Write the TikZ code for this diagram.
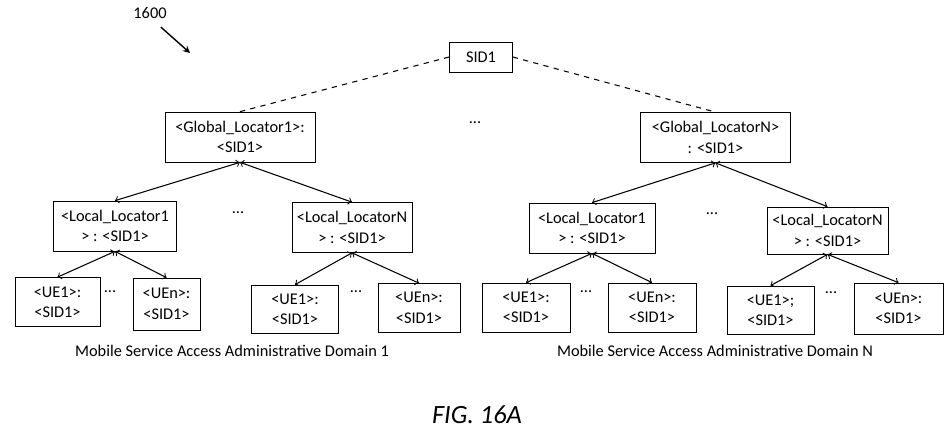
\documentclass[tikz,border=0pt]{standalone}
\usepackage{fontspec}
\setmainfont{Carlito}
\usepackage{tikz}
\usetikzlibrary{calc}
\usetikzlibrary{arrows}
\tikzstyle{sidbox} = [rectangle, 
minimum width=1.26cm, 
minimum height=0.6cm, 
text centered, 
draw=black]
\tikzstyle{globbox} = [rectangle, 
minimum width=3cm, 
minimum height=1cm, 
align=center, 
inner sep=1pt, 
draw=black]
\tikzstyle{locbox} = [rectangle, 
minimum width=2.46cm, 
minimum height=1cm, 
align=center, 
inner sep=1pt, 
draw=black]
\tikzstyle{uebox} = [rectangle, 
minimum width=1.74cm, 
minimum height=0.98cm, 
align=center, 
inner sep=1pt, 
draw=black]
\tikzstyle{dots} = [anchor=base, inner sep=0pt]
\tikzstyle{link} = [<->,>=to, semithick]
\tikzstyle{peer} = [dashed, semithick]
\tikzstyle{ptr} = [thick,->,>=stealth]

\begin{document}
\begin{tikzpicture}[font=\fontsize{9.3}{11.6}\selectfont]
			\useasboundingbox (0,0) rectangle (19,-8.9);
			\node (num) at (3.0,-0.26) {1600};
			\coordinate (tip) at (3.8,-1.06);
			\draw [ptr, shorten <=2pt] (num.-55) -- (tip);
			
			\node (sid)[sidbox] at (9.62,-1.14) {SID1};
			
			\node (glob1)[globbox] at (4.8,-2.74) {<Global\_Locator1>:\\<SID1>};
			\node (globN)[globbox] at (14.31,-2.75) {<Global\_LocatorN>\\: <SID1>};
			\node (gdots)[dots] at (9.5,-2.48) {...};
			\draw [peer] (sid.west) -- (glob1.north);
			\draw [peer] (sid.east) -- (globN.north);
			
			% domain 1
			\node (loc11)[locbox] at (2.3,-4.52) {<Local\_Locator1\\> : <SID1>};
			\node (loc1N)[locbox, minimum width=2.4cm] at (7.04,-4.55) {<Local\_LocatorN\\> : <SID1>};
			\node (ldots1)[dots] at (4.76,-4.28) {...};
			\draw [link] (glob1.south) -- (loc11.north);
			\draw [link] (glob1.south) -- (loc1N.north);
			
			\node (ue111)[uebox, minimum width=1.7cm] at (1.15,-6.04) {<UE1>:\\<SID1>};
			\node (ue11n)[uebox, minimum width=1.34cm, minimum height=1.04cm] at (3.33,-6.08) {<UEn>:\\<SID1>};
			\node (udots11)[dots] at (2.2,-5.86) {...};
			\draw [link] (loc11.south) -- (ue111.north);
			\draw [link] (loc11.south) -- (ue11n.north);
			
			\node (ue1n1)[uebox, minimum height=0.96cm] at (5.9,-6.18) {<UE1>:\\<SID1>};
			\node (ue1nn)[uebox, minimum width=1.64cm] at (8.38,-6.16) {<UEn>:\\<SID1>};
			\node (udots1n)[dots] at (7.12,-5.86) {...};
			\draw [link] (loc1N.south) -- (ue1n1.north);
			\draw [link] (loc1N.south) -- (ue1nn.north);
			
			% domain N
			\node (locN1)[locbox, minimum width=2.52cm] at (11.84,-4.56) {<Local\_Locator1\\> : <SID1>};
			\node (locNN)[locbox, minimum width=2.42cm, minimum height=0.94cm] at (16.55,-4.61) {<Local\_LocatorN\\> : <SID1>};
			\node (ldotsN)[dots] at (14.24,-4.3) {...};
			\draw [link] (globN.south) -- (locN1.north);
			\draw [link] (globN.south) -- (locNN.north);
			
			\node (ueN11)[uebox, minimum width=1.76cm] at (10.52,-6.15) {<UE1>:\\<SID1>};
			\node (ueN1n)[uebox, minimum width=1.76cm] at (13.04,-6.15) {<UEn>:\\<SID1>};
			\node (udotsN1)[dots] at (11.72,-5.86) {...};
			\draw [link] (locN1.south) -- (ueN11.north);
			\draw [link] (locN1.south) -- (ueN1n.north);
			
			\node (ueNN1)[uebox, minimum height=0.96cm] at (15.41,-6.2) {<UE1>;\\<SID1>};
			\node (ueNNn)[uebox, minimum width=1.78cm, minimum height=1.02cm] at (17.97,-6.17) {<UEn>:\\<SID1>};
			\node (udotsNN)[dots] at (16.62,-5.88) {...};
			\draw [link] (locNN.south) -- (ueNN1.north);
			\draw [link] (locNN.south) -- (ueNNn.north);
			
			\node (dom1) at (4.64,-7.02) {Mobile Service Access Administrative Domain 1};
			\node (domN) at (14.3,-7.02) {Mobile Service Access Administrative Domain N};
			
			\node (fig) at (9.54,-8.3) {\fontsize{15}{18}\selectfont\itshape FIG. 16A};
		\end{tikzpicture}
\end{document}
